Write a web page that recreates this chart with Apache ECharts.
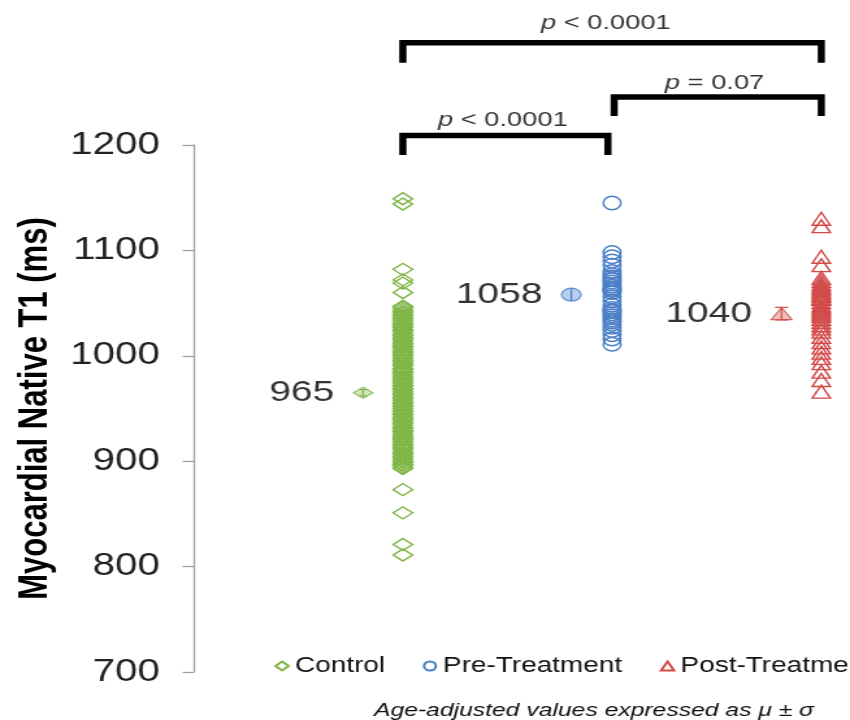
<!DOCTYPE html>
<html>
<head>
<meta charset="utf-8">
<script src="https://cdn.jsdelivr.net/npm/echarts@6/dist/echarts.min.js"></script>
<style>
html,body{margin:0;padding:0;background:#fff;overflow:hidden;width:850px;height:720px;}
#wrap{width:654px;height:720px;transform:scaleX(1.2997);transform-origin:0 0;}
#chart{width:654px;height:720px;}
</style>
</head>
<body>
<div id="wrap"><div id="chart"></div></div>
<script>
// ---- data ----
const categories = ['Control', 'Pre-Treatment', 'Post-Treatment'];
const controlT1 = [1149, 1144, 1082, 1072, 1069, 1060,
  1047, 1046, 1044, 1042, 1041, 1039, 1038, 1036, 1035, 1033, 1031, 1030, 1028, 1027,
  1025, 1024, 1022, 1020, 1019, 1017, 1016, 1014, 1012, 1011, 1009, 1008, 1006, 1004,
  1003, 1001, 1000, 998, 996, 995, 993, 992, 990, 988, 987, 985, 984, 982, 980, 979,
  977, 976, 974, 972, 971, 969, 968, 966, 964, 963, 961, 960, 958, 956, 955, 953,
  952, 950, 948, 947, 945, 944, 942, 940, 939, 937, 936, 934, 932, 931, 929, 928,
  926, 924, 923, 921, 920, 918, 916, 915, 913, 912, 910, 908, 907, 905, 904, 902,
  900, 899, 897, 896, 894, 893,
  873, 851, 821, 811];
const preT1 = [1145, 1098, 1094, 1090, 1086, 1080, 1077, 1075, 1073, 1072, 1070, 1068, 1066,
  1064, 1063, 1062, 1060, 1056, 1052, 1048, 1045, 1043, 1042, 1040, 1038, 1036, 1034, 1032,
  1030, 1027, 1024, 1020, 1016, 1011];
const postT1 = [1130, 1123, 1094, 1086, 1074, 1071, 1068, 1066, 1064, 1062, 1060, 1058, 1057,
  1055, 1054, 1051, 1048, 1046, 1044, 1042, 1040, 1038, 1035, 1032, 1029, 1026, 1023,
  1018, 1013, 1008, 1003, 998, 993, 985, 977, 966];
const groupValues = [controlT1, preT1, postT1];
const means = [965, 1058, 1040];
const spreads = [3, 6, 6];
const meanLabels = ['965', '1058', '1040'];
const yTicks = [700, 800, 900, 1000, 1100, 1200];
const pTexts = ['p < 0.0001', 'p = 0.07', 'p < 0.0001'];
const footnote = 'Age-adjusted values expressed as \u03bc \u00b1 \u03c3';
const yTitle = 'Myocardial Native T1 (ms)';

// ---- placement in data units (x: group index, y: ms) ----
const catX = [1, 2, 3];
const meanX = [0.81, 1.805, 2.81];
const brackets = [[1, 3, 1297, 1278], [2.01, 3, 1245.5, 1227.5], [1, 1.98, 1209, 1190.5]];
const pPos = [[1.97, 1316], [2.49, 1259], [1.478, 1224]];

// ---- styles ----
const colors = ['#7fb646', '#4a7fc6', '#d24a48'];
const fills = ['#c9e0ae', '#a9c3e8', '#eeb1ae'];
const symbols = ['diamond', 'circle', 'triangle'];
const symSizes = [[15, 12], [13.5, 13.5], [14, 13]];
const meanSizes = [[15, 11], [15, 13], [16, 12]];
const capW = [[5, 5], [0, 0], [0, 10]];
const FONT = 'Liberation Sans, Arial, sans-serif';

const chart = echarts.init(document.getElementById('chart'), null, {renderer: 'canvas', width: 654, height: 720});

const series = [];
categories.forEach((name, i) => {
  series.push({
    name: name, type: 'scatter', symbol: symbols[i], symbolSize: symSizes[i],
    data: groupValues[i].map(v => [catX[i], v]),
    itemStyle: {color: 'rgba(255,255,255,0)', borderColor: colors[i], borderWidth: 1.4, opacity: 1},
    z: 3, silent: true
  });
});
categories.forEach((name, i) => {
  series.push({
    name: name + ' mean', type: 'scatter', symbol: symbols[i], symbolSize: meanSizes[i],
    data: [[meanX[i], means[i]]],
    itemStyle: {color: fills[i], borderColor: colors[i], borderWidth: 1.2},
    label: {show: true, position: 'left', distance: 14, formatter: meanLabels[i],
      fontFamily: FONT, fontSize: 30, color: '#000'},
    z: 4, silent: true
  });
  series.push({
    name: name + ' sd', type: 'custom', z: 5, silent: true,
    data: [[meanX[i], means[i], spreads[i]]],
    renderItem: function (params, api) {
      const x = api.value(0), m = api.value(1), s = api.value(2);
      const top = api.coord([x, m + s]);
      const bot = api.coord([x, m - s]);
      const st = {stroke: colors[i], lineWidth: 1.2};
      const ch = [{type: 'line', shape: {x1: top[0], y1: top[1], x2: bot[0], y2: bot[1]}, style: st}];
      if (capW[i][0] > 0) ch.push({type: 'line', shape: {x1: top[0] - capW[i][0] / 2, y1: top[1], x2: top[0] + capW[i][0] / 2, y2: top[1]}, style: st});
      if (capW[i][1] > 0) ch.push({type: 'line', shape: {x1: bot[0] - capW[i][1] / 2, y1: bot[1], x2: bot[0] + capW[i][1] / 2, y2: bot[1]}, style: st});
      if (i === 2) ch.push({type: 'line', shape: {x1: top[0] - capW[i][1] / 2, y1: top[1], x2: top[0] + capW[i][1] / 2, y2: top[1]}, style: st});
      return {type: 'group', children: ch};
    }
  });
});
brackets.forEach((b, k) => {
  series.push({
    name: 'bracket' + k, type: 'line', symbol: 'none', clip: false, silent: true, z: 6,
    data: [[b[0], b[3]], [b[0], b[2]], [b[1], b[2]], [b[1], b[3]]],
    lineStyle: {color: '#000', width: 5.5, cap: 'butt', join: 'miter'}
  });
});
series.push({
  name: 'pvalues', type: 'scatter', symbolSize: 1, clip: false, silent: true, z: 6,
  itemStyle: {color: 'rgba(0,0,0,0)'},
  data: pTexts.map((t, k) => ({value: pPos[k], name: t})),
  label: {show: true, position: 'inside',
    formatter: p => '{i|p}{r|' + p.name.slice(1) + '}',
    rich: {i: {fontFamily: FONT, fontSize: 21, fontStyle: 'italic', color: '#000'},
           r: {fontFamily: FONT, fontSize: 21, color: '#000'}}}
});

chart.setOption({
  animation: false,
  backgroundColor: '#fff',
  title: {text: footnote, left: 452, top: 696, textAlign: 'center',
    textStyle: {fontFamily: FONT, fontSize: 19, fontStyle: 'italic', fontWeight: 'normal', color: '#111'}},
  legend: {data: categories, left: 206, top: 650, width: 800, orient: 'horizontal',
    itemWidth: 10, itemHeight: 9, itemGap: 29,
    textStyle: {fontFamily: FONT, fontSize: 21.5, color: '#111'}},
  grid: {left: 149, right: 6, top: 145, bottom: 48, containLabel: false},
  xAxis: {type: 'value', min: 0, max: 3.1, show: false},
  yAxis: {type: 'value', min: yTicks[0], max: yTicks[yTicks.length - 1], interval: 100,
    name: yTitle, nameLocation: 'middle', nameGap: 98, nameRotate: 90,
    nameTextStyle: {fontFamily: FONT, fontSize: 31, fontWeight: 'bold', color: '#000'},
    axisLine: {show: true, lineStyle: {color: '#a0a0a0', width: 1.3}},
    axisTick: {show: true, length: 8.5, lineStyle: {color: '#a0a0a0', width: 1.3}},
    axisLabel: {margin: 26, fontFamily: FONT, fontSize: 31, color: '#222', formatter: v => String(v)},
    splitLine: {show: false}},
  series: series
});
</script>
</body>
</html>
